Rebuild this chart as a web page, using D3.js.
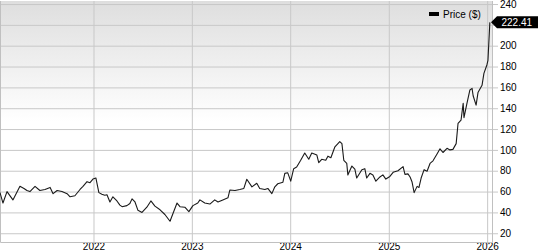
<!DOCTYPE html>
<html>
<head>
<meta charset="utf-8">
<script src="https://cdn.jsdelivr.net/npm/d3@7"></script>
<style>
  body { margin: 0; background: #fff; }
  svg { display: block; font-family: "Liberation Sans", Arial, sans-serif; }
</style>
</head>
<body>
<svg width="538" height="252"></svg>
<script>
// price, roughly every two weeks
var dates = [
  "2021-01-19","2021-01-30","2021-02-14","2021-03-08","2021-04-03","2021-04-18","2021-04-29","2021-05-10",
  "2021-05-29","2021-06-16","2021-07-05","2021-07-24","2021-08-04","2021-08-19","2021-09-06","2021-09-25",
  "2021-10-06","2021-10-24","2021-11-12","2021-11-23","2021-12-08","2021-12-19","2021-12-30",
  "2022-01-10","2022-01-21","2022-02-01","2022-02-12","2022-02-20","2022-03-03","2022-03-14","2022-03-29",
  "2022-04-09","2022-04-17","2022-05-05","2022-05-16","2022-05-24","2022-06-04","2022-06-15","2022-06-30",
  "2022-07-18","2022-08-02","2022-08-17","2022-09-05","2022-09-23","2022-10-12","2022-10-23","2022-11-07",
  "2022-11-18","2022-12-06","2022-12-21",
  "2023-01-05","2023-01-23","2023-01-31","2023-02-18","2023-03-09","2023-03-27","2023-04-08","2023-04-26",
  "2023-05-15","2023-05-22","2023-06-10","2023-06-28","2023-07-13","2023-07-24","2023-08-12","2023-08-30",
  "2023-09-10","2023-09-29","2023-10-10","2023-10-25","2023-11-05","2023-11-16","2023-12-05","2023-12-12",
  "2023-12-23",
  "2024-01-03","2024-01-14","2024-01-25","2024-02-09","2024-02-24","2024-03-10","2024-03-21","2024-04-09",
  "2024-04-16","2024-04-27","2024-05-12","2024-05-20","2024-05-31","2024-06-15","2024-07-03","2024-07-11",
  "2024-07-18","2024-07-29","2024-08-02","2024-08-17","2024-08-28","2024-09-04","2024-09-23","2024-10-04",
  "2024-10-11","2024-10-23","2024-11-03","2024-11-14","2024-11-29","2024-12-10","2024-12-21",
  "2025-01-05","2025-01-17","2025-02-04","2025-02-23","2025-03-02","2025-03-13","2025-03-21","2025-03-28",
  "2025-04-05","2025-04-16","2025-04-23","2025-05-01","2025-05-12","2025-05-23","2025-06-03","2025-06-14",
  "2025-06-29","2025-07-10","2025-07-21","2025-08-05","2025-08-16","2025-08-27","2025-09-08","2025-09-15",
  "2025-09-26","2025-10-04","2025-10-07","2025-10-18","2025-10-29","2025-11-06","2025-11-10","2025-11-21",
  "2025-11-28","2025-12-13","2025-12-20","2025-12-31",
  "2026-01-04","2026-01-11"
];

var prices = [
  59,49,60,52,65,63,61,60,
  65,61,62,64,58,61,60,58,
  55,56,62,65,69.5,68.5,72,
  73,59,57.5,56.5,57,50,55,51,
  47,45.5,46.5,48.5,53,50,42,40,
  45,51,46,42.5,38,31.5,39,49,
  45.5,45,40.7,
  46.5,49,52,49,48,52,50,52,
  54,61.5,61,62,63,71.8,64.5,68,
  63,62,63,58,64.6,67.5,69,77.5,
  78,
  70,82,83.5,90,97,91,97,95,
  87.7,91,90,94,92.5,103,108,106,
  90,87,76,84.5,81.5,73,81,82,
  73,77.5,76,70,74,76,72,
  74.5,78.5,80,84,76.5,77,74,69.5,
  59,65,64,73,81,79.5,87,89.5,
  96,101,97.5,101.5,100,100.5,106,125.5,
  128.5,144.7,131,144.7,157.5,159,152,143,
  155,162,173.5,181.5,
  186,222.41
];

var yTicks = [20, 40, 60, 80, 100, 120, 140, 160, 180, 200, 220, 240];
var xTicks = ["2022", "2023", "2024", "2025", "2026"];
var seriesName = "Price ($)";

var svg = d3.select("svg"),
    margin = {top: 1, left: 0},
    width = 492,
    height = 241,
    g = svg.append("g").attr("transform", "translate(" + margin.left + "," + margin.top + ")");

var parseDate = d3.timeParse("%Y-%m-%d");
var data = dates.map(function(d, i) { return {date: parseDate(d), price: prices[i]}; });

var x = d3.scaleTime()
    .domain([parseDate("2021-01-19"), parseDate("2026-01-19")])
    .range([0, width]);
var y = d3.scaleLinear().domain([11.6, 242.9]).range([height, 0]);

var last = data[data.length - 1],
    ly = y(last.price);

// background gradient
var grad = svg.append("defs").append("linearGradient")
    .attr("id", "bg").attr("x1", 0).attr("y1", 0).attr("x2", 0).attr("y2", 1);
grad.append("stop").attr("offset", "0%").attr("stop-color", "#dedede");
grad.append("stop").attr("offset", "50%").attr("stop-color", "#ffffff");

g.append("rect")
    .attr("width", width).attr("height", height)
    .attr("fill", "url(#bg)");

// horizontal grid + right axis
g.append("g")
    .attr("transform", "translate(" + width + ",0)")
    .call(d3.axisRight(y).tickValues(yTicks).tickSize(6).tickPadding(2))
    .call(function(s) {
        s.select(".domain").remove();
        s.selectAll(".tick line").attr("x1", -width).attr("stroke", "#c8c8c8");
        s.selectAll(".tick text").attr("fill", "#000").style("font-size", "10px")
            .style("font-family", "'Liberation Sans', Arial, sans-serif");
        // the price flag hides the label it sits on
        s.selectAll(".tick").filter(function(d) { return Math.abs(y(d) - ly) < 9; })
            .select("text").remove();
    });

// vertical grid + bottom axis
g.append("g")
    .attr("transform", "translate(0," + height + ")")
    .call(d3.axisBottom(x)
        .tickValues(xTicks.map(function(t) { return parseDate(t + "-01-01"); }))
        .tickFormat(d3.timeFormat("%Y"))
        .tickSize(3))
    .call(function(s) {
        s.select(".domain").remove();
        s.selectAll(".tick line").attr("y1", -height).attr("stroke", "#c8c8c8");
        s.selectAll(".tick text").attr("fill", "#000").attr("y", 1.3)
            .style("font-size", "10px")
            .style("font-family", "'Liberation Sans', Arial, sans-serif");
    });

// plot frame
g.append("path")
    .attr("d", "M0.5,0V" + (height + 0.5) + "H" + (width + 0.5) + "V0")
    .attr("fill", "none")
    .attr("stroke", "#c0c0c0");

var line = d3.line()
    .x(function(d) { return x(d.date); })
    .y(function(d) { return y(d.price); });

g.append("path")
    .datum(data)
    .attr("fill", "none")
    .attr("stroke", "#1a1a1a")
    .attr("stroke-width", 1.1)
    .attr("stroke-linejoin", "round")
    .attr("d", line);

// legend
var legend = g.append("g").attr("transform", "translate(429,0)");
legend.append("rect").attr("x", 0).attr("y", 11).attr("width", 10).attr("height", 4).attr("fill", "#000");
legend.append("text").attr("x", 14).attr("y", 17)
    .style("font-size", "10px").attr("fill", "#000")
    .text(seriesName);

// last price flag
var flag = g.append("g").attr("transform", "translate(491," + ly + ")");
flag.append("path")
    .attr("d", "M0,0L6,-6H47V6H6Z")
    .attr("fill", "#000");
flag.append("text")
    .attr("x", 10.5).attr("y", 3.8)
    .attr("fill", "#fff")
    .style("font-size", "10px")
    .text(d3.format(".2f")(last.price));
</script>
</body>
</html>
